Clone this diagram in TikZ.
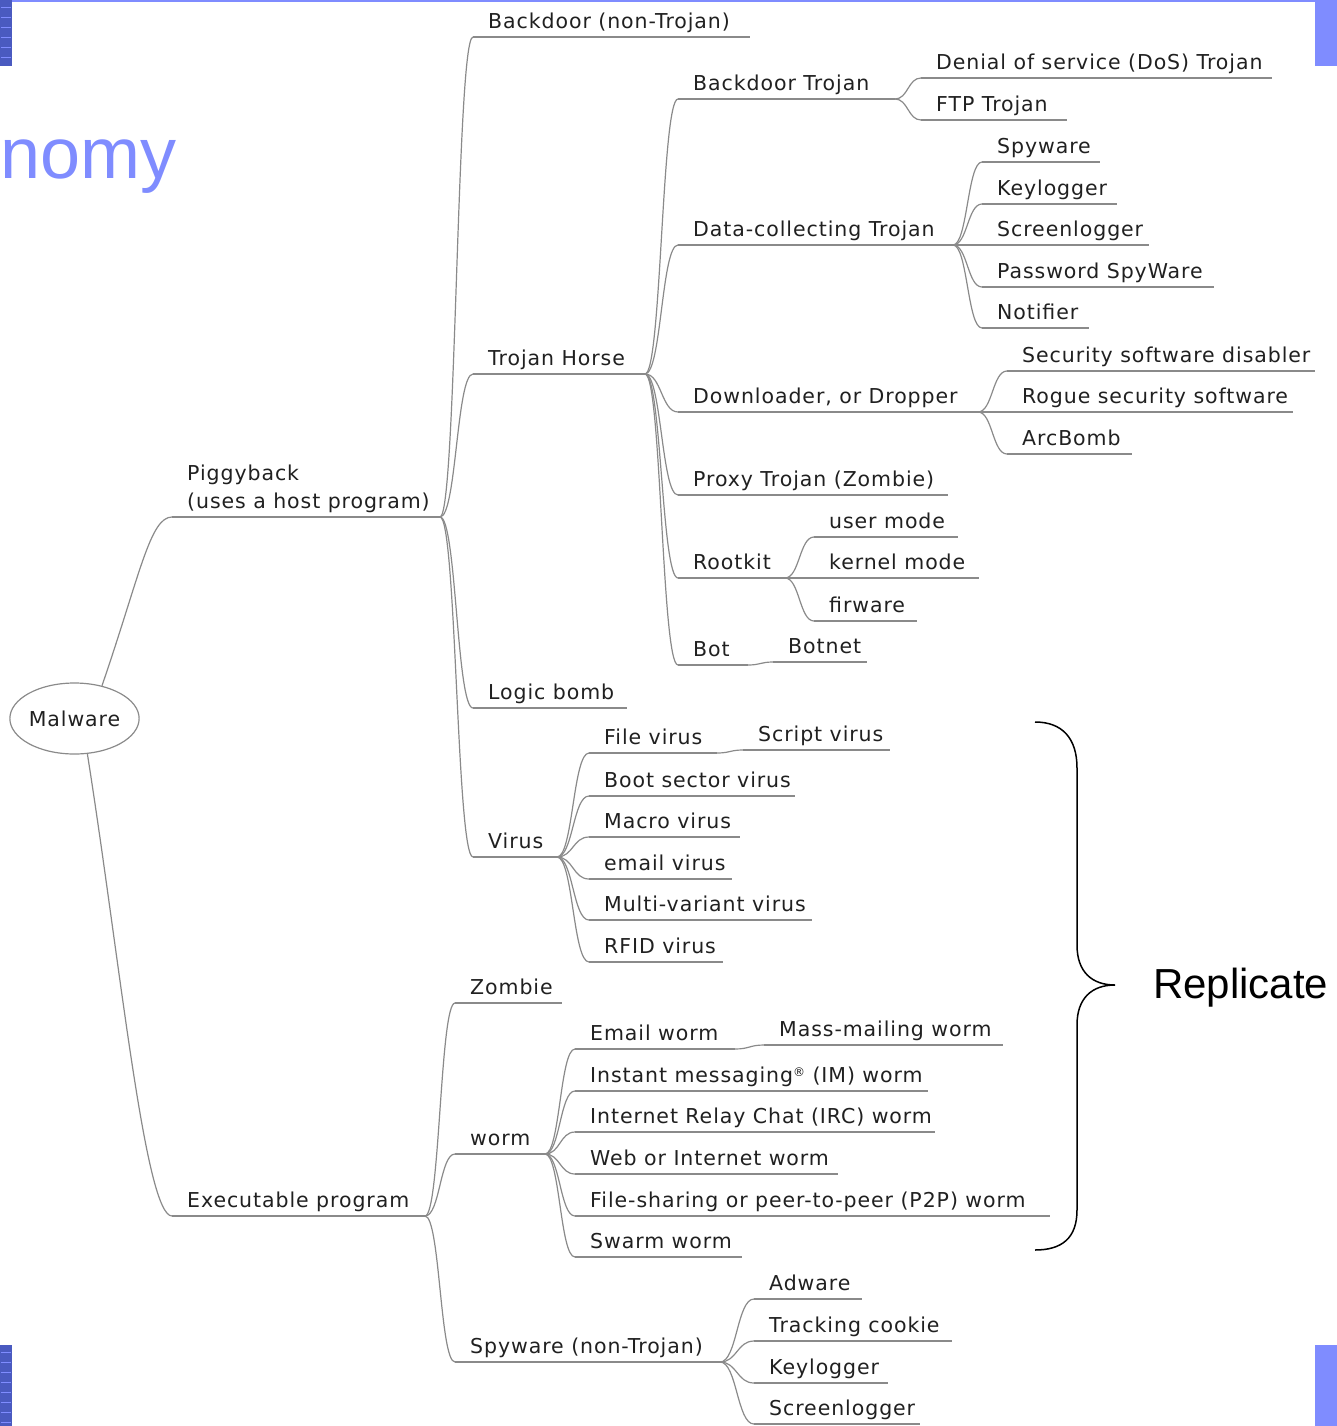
\documentclass[tikz,border=0pt]{standalone}
\usepackage{fontspec}
\setmainfont{DejaVu Sans}[LetterSpace=4.5]
\newfontfamily\headfont{Liberation Sans}
\usetikzlibrary{calc,shapes.geometric}
\definecolor{edgegray}{HTML}{8A8A8A}
\definecolor{inkgray}{HTML}{202020}
\definecolor{slideblue}{HTML}{7F8CFF}
\definecolor{deepblue}{HTML}{4A5AC0}
\tikzset{
  mmfont/.style={font=\fontsize{20.5}{28}\selectfont, text=inkgray},
  mmtext/.style={mmfont, inner sep=0pt, anchor=base west},
  edge/.style={draw=edgegray, line width=1.2pt},
}
% a mind-map topic: text over an underline; #1 name, #2 left x, #3 right x, #4 underline y, #5 label
\newcommand\mmnode[5]{%
  \coordinate (#1-l) at (#2,#4);
  \coordinate (#1-r) at (#3,#4);
  \node[mmtext] (#1) at ({#2+15},{#4-8.5}) {#5};
  \draw[edge] (#1-l) -- (#1-r);
}
% curved branch from the right end of a parent underline to the left end of a child underline
\newcommand\mmlink[2]{%
  \draw[edge] let \p1=(#1-r), \p2=(#2-l) in
    (\p1) .. controls ({(\x1+\x2)/2},\y1) and ({(\x1+\x2)/2},\y2) .. (\p2);
}
\begin{document}
\begin{tikzpicture}[x=1pt,y=-1pt]
\useasboundingbox (0,0) rectangle (1337,1426);
% slide frame pieces
\fill[slideblue] (0,0) rectangle (1315,2);
\fill[slideblue] (1315,0) rectangle (1337,66);
\fill[slideblue] (1315,1345) rectangle (1337,1426);
\fill[deepblue] (0,0) rectangle (12,66);
\fill[deepblue] (0,1345) rectangle (12,1426);
\foreach \yy in {8,18,...,58} \draw[slideblue, line width=1pt] (1,\yy) -- (11,\yy);
\foreach \yy in {1352,1362,...,1422} \draw[slideblue, line width=1pt] (1,\yy) -- (11,\yy);
\node[font=\headfont\fontsize{72}{78}\selectfont, text=slideblue, anchor=base west, inner sep=0pt] (title) at (0,178) {nomy};

% root
\node[ellipse, draw=edgegray, line width=1.2pt, minimum width=125pt, minimum height=71pt, inner sep=0pt, mmfont] (malware) at (74.5,718.5) {Malware};

% first level
\coordinate (piggy-l) at (172,517);
\coordinate (piggy-r) at (440,517);
\node[mmtext, anchor=south west, align=left] (piggy) at (187,513) {Piggyback\\(uses a host program)};
\draw[edge] (piggy-l) -- (piggy-r);
\mmnode{exec}{172}{425}{1216}{Executable program}
\draw[edge] (malware.50) .. controls (140,575) and (150,517) .. (piggy-l);
\draw[edge] (malware.-70) .. controls (120,960) and (145,1216) .. (exec-l);

% piggyback branch
\mmnode{bdnt}{473}{750}{37}{Backdoor (non-Trojan)}
\mmnode{trojan}{473}{645}{374}{Trojan Horse}
\mmnode{logic}{473}{627}{708}{Logic bomb}
\mmnode{virus}{473}{557}{857}{Virus}
\mmlink{piggy}{bdnt}
\mmlink{piggy}{trojan}
\mmlink{piggy}{logic}
\mmlink{piggy}{virus}

% trojan horse branch
\mmnode{bdtroj}{678}{895}{99}{Backdoor Trojan}
\mmnode{datatroj}{678}{953}{245}{Data-collecting Trojan}
\mmnode{dropper}{678}{978}{412}{Downloader, or Dropper}
\mmnode{proxy}{678}{948}{495}{Proxy Trojan (Zombie)}
\mmnode{rootkit}{678}{785}{578}{Rootkit}
\mmnode{bot}{678}{748}{665}{Bot}
\foreach \c in {bdtroj,datatroj,dropper,proxy,rootkit,bot} {\mmlink{trojan}{\c}}

\mmnode{dos}{921}{1272}{78}{Denial of service (DoS) Trojan}
\mmnode{ftp}{921}{1067}{120}{FTP Trojan}
\mmlink{bdtroj}{dos}
\mmlink{bdtroj}{ftp}

\mmnode{spy}{982}{1100}{162}{Spyware}
\mmnode{keylog}{982}{1117}{204}{Keylogger}
\mmnode{screen}{982}{1149}{245}{Screenlogger}
\mmnode{pwspy}{982}{1214}{287}{Password SpyWare}
\mmnode{notif}{982}{1089}{328}{Notifier}
\foreach \c in {spy,keylog,screen,pwspy,notif} {\mmlink{datatroj}{\c}}

\mmnode{secdis}{1007}{1315}{371}{Security software disabler}
\mmnode{rogue}{1007}{1293}{412}{Rogue security software}
\mmnode{arcbomb}{1007}{1132}{454}{ArcBomb}
\foreach \c in {secdis,rogue,arcbomb} {\mmlink{dropper}{\c}}

\mmnode{usermode}{814}{958}{537}{user mode}
\mmnode{kernel}{814}{979}{578}{kernel mode}
\mmnode{firware}{814}{917}{621}{firware}
\foreach \c in {usermode,kernel,firware} {\mmlink{rootkit}{\c}}

\mmnode{botnet}{773}{867}{662}{Botnet}
\mmlink{bot}{botnet}

% virus branch
\mmnode{filevir}{589}{717}{753}{File virus}
\mmnode{scriptvir}{743}{890}{750}{Script virus}
\mmnode{bootvir}{589}{795}{796}{Boot sector virus}
\mmnode{macrovir}{589}{740}{837}{Macro virus}
\mmnode{emailvir}{589}{732}{879}{email virus}
\mmnode{multivir}{589}{812}{920}{Multi-variant virus}
\mmnode{rfidvir}{589}{723}{962}{RFID virus}
\foreach \c in {filevir,bootvir,macrovir,emailvir,multivir,rfidvir} {\mmlink{virus}{\c}}
\mmlink{filevir}{scriptvir}

% executable program branch
\mmnode{zombie}{455}{562}{1003}{Zombie}
\mmnode{worm}{455}{545}{1154}{worm}
\mmnode{spyNT}{455}{720}{1362}{Spyware (non-Trojan)}
\foreach \c in {zombie,worm,spyNT} {\mmlink{exec}{\c}}

\mmnode{emailworm}{575}{735}{1049}{Email worm}
\mmnode{massmail}{764}{1003}{1045}{Mass-mailing worm}
\mmnode{imworm}{575}{928}{1091}{Instant messaging\raisebox{0.55ex}{\fontsize{12}{12}\selectfont ®} (IM) worm}
\mmnode{ircworm}{575}{935}{1132}{Internet Relay Chat (IRC) worm}
\mmnode{webworm}{575}{838}{1174}{Web or Internet worm}
\mmnode{p2pworm}{575}{1050}{1216}{File-sharing or peer-to-peer (P2P) worm}
\mmnode{swarm}{575}{742}{1257}{Swarm worm}
\foreach \c in {emailworm,imworm,ircworm,webworm,p2pworm,swarm} {\mmlink{worm}{\c}}
\mmlink{emailworm}{massmail}

\mmnode{adware}{754}{862}{1299}{Adware}
\mmnode{tracking}{754}{952}{1341}{Tracking cookie}
\mmnode{keylog2}{754}{888}{1383}{Keylogger}
\mmnode{screen2}{754}{920}{1424}{Screenlogger}
\foreach \c in {adware,tracking,keylog2,screen2} {\mmlink{spyNT}{\c}}

% brace grouping the replicating kinds
\draw[black, line width=1.5pt] (1035,722) .. controls (1062,722) and (1077,738) .. (1077,768)
  -- (1077,945) .. controls (1077,972) and (1092,985) .. (1115,985)
  .. controls (1092,985) and (1077,998) .. (1077,1025)
  -- (1077,1210) .. controls (1077,1238) and (1062,1250) .. (1035,1250);
\node[font=\headfont\fontsize{42}{46}\selectfont, text=black, anchor=base west, inner sep=0pt] (replicate) at (1153,998) {Replicate};
\end{tikzpicture}
\end{document}
